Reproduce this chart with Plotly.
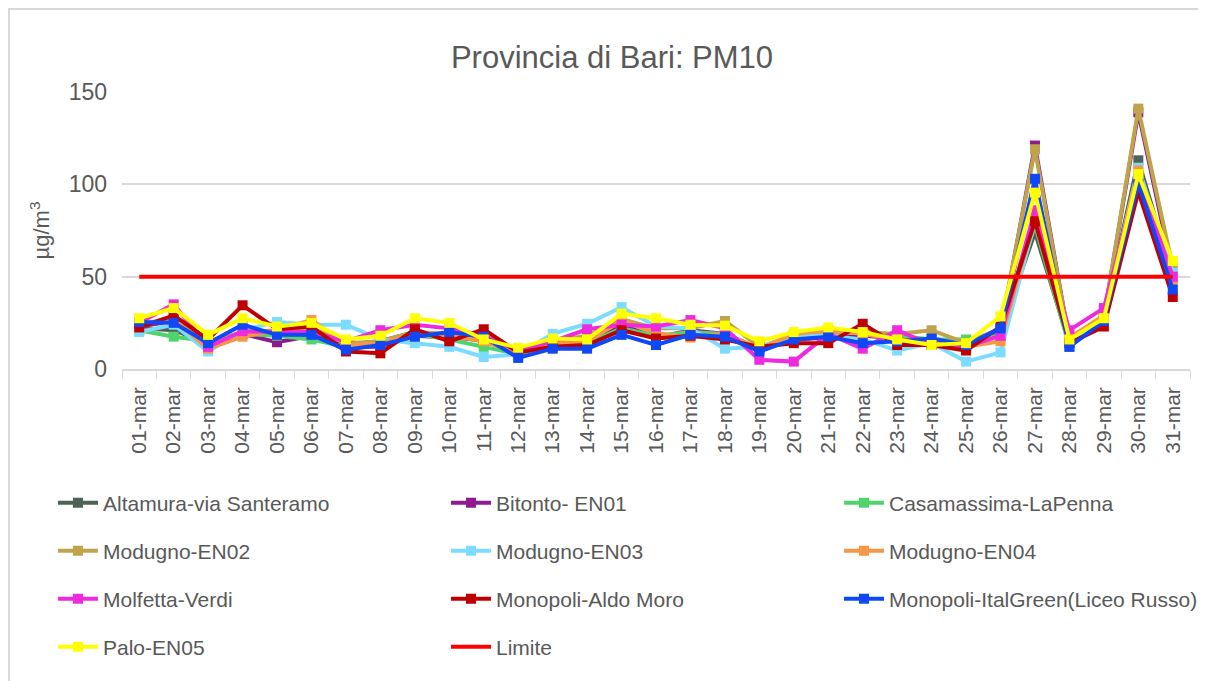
import plotly.graph_objects as go

days = [f"{d:02d}-mar" for d in range(1, 32)]

altamura = [22, 21, 14, 20, 19, 18, 13, 15, 20, 18, 15, 9, 14, 16, 22, 18, 19, 18, 11, 17, 17, 18, 17, 15, 14, 20, 74, 14, 28, 113, 50]
bitonto = [23, 26, 13, 19, 14.5, 18, 12, 12, 18, 17, 16, 9, 13, 15, 24, 17, 21, 19, 11, 16, 17, 18, 17, 14, 13, 20, 121, 15, 28, 139, 52]
casamassima = [21, 17.5, 15, 19, 18, 16, 12, 13, 19, 16, 12, 8, 13, 14, 22, 18, 20, 19, 11, 16, 19, 20, 18, 16, 16, 18, 78, 12, 28, 104, 50]
modugno_en02 = [24, 28, 14, 20, 21, 22, 14, 15, 20, 19, 16, 10, 15, 18, 27, 22, 22, 26, 12, 18, 20, 20, 19, 21, 14, 22, 119, 15, 28, 141, 55]
modugno_en03 = [20, 24, 9.5, 21, 25.5, 24, 24, 16, 14, 12, 6.5, 8, 19, 24.5, 33.5, 23, 22, 11, 12, 18, 18, 16, 10, 14, 4, 9, 80, 15, 28, 109, 52]
modugno_en04 = [24, 27, 11, 17.5, 21, 26.5, 13, 14, 19, 18, 15, 9, 14, 15, 26, 19.5, 17, 19, 11, 19, 21, 19, 16, 15, 12, 15, 83, 17, 29, 107.5, 47]
molfetta = [25, 35, 12, 20.5, 20, 20, 15, 21, 24, 22, 18, 10, 15, 21.5, 24, 23, 26.5, 22, 5, 4, 19, 11, 21, 13, 12, 18, 86, 21, 33, 104, 50]
monopoli_am = [22.5, 29, 16, 34.5, 21.5, 23, 9.5, 8.5, 21.5, 15, 21.5, 9, 12, 13, 21, 16.5, 18, 16, 12, 14, 14, 24.5, 13, 13, 10, 23, 80, 14, 23, 96, 39]
monopoli_ig = [25.5, 25, 14, 24, 18.5, 18.5, 10.5, 13, 17.5, 20, 17.5, 6, 11, 11, 18.5, 13, 18.5, 17.5, 9.5, 16, 17.5, 14, 15, 16.5, 13, 22, 103, 12, 26, 100.5, 43]
palo_en05 = [27.5, 33, 18.5, 27.5, 23, 25, 16, 18, 27.5, 25, 16, 11.5, 16.5, 16, 30, 27.5, 24, 23.5, 15, 20, 22.5, 20, 16, 13, 14, 28.5, 95.5, 16, 27.5, 105.5, 58.5]
limite = [50] * 31

series = [
    ("Altamura-via Santeramo", altamura, "#4E6256", "legend"),
    ("Bitonto- EN01", bitonto, "#8E1A8E", "legend"),
    ("Casamassima-LaPenna", casamassima, "#4FD46B", "legend"),
    ("Modugno-EN02", modugno_en02, "#C0A44B", "legend2"),
    ("Modugno-EN03", modugno_en03, "#7CDCFF", "legend2"),
    ("Modugno-EN04", modugno_en04, "#F79646", "legend2"),
    ("Molfetta-Verdi", molfetta, "#EE2AE0", "legend3"),
    ("Monopoli-Aldo Moro", monopoli_am, "#C00000", "legend3"),
    ("Monopoli-ItalGreen(Liceo Russo)", monopoli_ig, "#1048F5", "legend3"),
    ("Palo-EN05", palo_en05, "#FFFF00", "legend4"),
]

FONT = "Liberation Sans, Arial, sans-serif"
GRAY = "#595959"

fig = go.Figure()
for name, vals, color, lg in series:
    fig.add_trace(go.Scatter(
        x=days, y=vals, name=name, mode="lines+markers",
        line=dict(color=color, width=4),
        marker=dict(symbol="square", size=10, color=color),
        legend=lg,
    ))
fig.add_trace(go.Scatter(
    x=days, y=limite, name="Limite", mode="lines",
    line=dict(color="#FF0000", width=4), legend="legend4",
))

# page body has an 8px offset; design in screen pixels minus 8
OFF = 8
W, H = 1206 - OFF, 681 - OFF
L = 122 - OFF
R = W - (1190 - OFF)
T = 92 - OFF
B = H - (369 - OFF)
pw, ph = W - L - R, H - T - B

def px_x(p):
    return (p - OFF - L) / pw

def px_y(p):
    return (H - B - (p - OFF)) / ph

legend_common = dict(
    orientation="h", entrywidth=338, entrywidthmode="pixels",
    font=dict(family=FONT, size=21, color=GRAY),
    bgcolor="rgba(0,0,0,0)", xanchor="left", yanchor="middle",
    x=px_x(53), itemwidth=40,
)

fig.update_layout(
    width=W, height=H,
    template="none",
    paper_bgcolor="white", plot_bgcolor="white",
    margin=dict(l=L, r=R, t=T, b=B, autoexpand=False),
    title=dict(text="Provincia di Bari: PM10", x=px_x(612), xref="paper", xanchor="center",
               y=1 - (57 - OFF) / H, yref="container", yanchor="middle",
               font=dict(family=FONT, size=31, color=GRAY)),
    showlegend=True,
    legend=dict(**legend_common, y=px_y(503)),
    legend2=dict(**legend_common, y=px_y(551)),
    legend3=dict(**legend_common, y=px_y(599)),
    legend4=dict(**legend_common, y=px_y(647)),
    xaxis=dict(
        type="category", range=[-0.5, 30.5], showgrid=False,
        showline=True, linecolor="#D9D9D9", linewidth=1.5,
        ticks="outside", tickson="boundaries", ticklen=8, tickcolor="#D9D9D9",
        tickangle=-90, tickfont=dict(family=FONT, size=21, color=GRAY),
        ticklabelstandoff=8,
        zeroline=False,
    ),
    yaxis=dict(
        range=[0, 150], tickvals=[0, 50, 100, 150], showgrid=True,
        gridcolor="#D9D9D9", gridwidth=1.5, zeroline=False, showline=False,
        ticks="", tickfont=dict(family=FONT, size=23, color=GRAY),
        ticklabelstandoff=14,
        title=dict(text="µg/m<sup>3</sup>", font=dict(family=FONT, size=22, color=GRAY), standoff=12),
    ),
    shapes=[dict(type="rect", xref="paper", yref="paper",
                 x0=px_x(9), x1=px_x(1220), y0=px_y(695), y1=px_y(9),
                 line=dict(color="#D9D9D9", width=2), fillcolor="rgba(0,0,0,0)", layer="below")],
)

fig.write_html("out.html")
